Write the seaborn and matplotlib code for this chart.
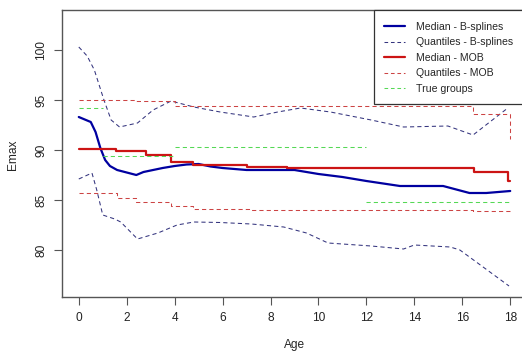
import numpy as np
import matplotlib
matplotlib.use("Agg")
import matplotlib.pyplot as plt
import pandas as pd
import seaborn as sns
from matplotlib.lines import Line2D
from matplotlib.patches import Rectangle

# median - B-splines
bs_age = [0, 0.5, 0.7, 0.9, 1.1, 1.3, 1.6, 2.0, 2.4, 2.7, 3.0, 3.5, 4.0, 4.5, 5.0,
          5.5, 6.0, 7.0, 8.0, 9.0, 10, 11, 12, 13.4, 15.2, 16.3, 17.0, 18]
bs_median = [93.3, 92.8, 91.8, 90.2, 89.0, 88.4, 88.0, 87.75, 87.5, 87.8, 87.95, 88.2,
             88.4, 88.55, 88.6, 88.35, 88.2, 88.0, 88.0, 88.0, 87.6, 87.3, 86.9, 86.4,
             86.4, 85.7, 85.7, 85.9]

# quantiles - B-splines
bs_up_age = [0, 0.35, 0.65, 0.85, 1.05, 1.35, 1.7, 2.45, 3.1, 3.85, 4.8, 5.9, 7.3,
             8.3, 9.25, 10.5, 12.2, 13.55, 15.4, 16.45, 17.9]
bs_upper = [100.3, 99.4, 98.0, 96.5, 95.0, 93.0, 92.3, 92.7, 94.0, 94.9, 94.3, 93.8,
            93.3, 93.8, 94.2, 93.8, 93.0, 92.3, 92.4, 91.5, 94.2]
bs_lo_age = [0, 0.55, 0.75, 1.0, 1.5, 1.75, 2.45, 3.3, 4.1, 4.8, 5.9, 7.2, 8.55, 9.5,
             10.4, 12.2, 13.55, 14.0, 15.5, 15.9, 17.95]
bs_lower = [87.1, 87.7, 86.0, 83.5, 83.1, 82.8, 81.1, 81.7, 82.5, 82.8, 82.75, 82.6,
            82.3, 81.7, 80.7, 80.4, 80.1, 80.5, 80.3, 80.0, 76.4]

# median - MOB (step function)
mob_age = [0, 1.55, 2.8, 3.85, 4.75, 7.0, 8.7, 16.5, 17.9, 18]
mob_median = [90.1, 89.95, 89.5, 88.85, 88.55, 88.3, 88.2, 87.8, 86.95, 86.95]

# quantiles - MOB
mob_up_age = [0, 2.4, 4.0, 16.45, 17.9, 18]
mob_upper = [95.05, 94.95, 94.4, 93.6, 93.6, 91.1]
mob_lo_age = [0, 1.6, 2.4, 3.85, 4.75, 7.1, 16.45, 18]
mob_lower = [85.75, 85.25, 84.8, 84.4, 84.1, 84.0, 83.9, 83.75]

# true groups
grp_start = [0, 1, 4, 12]
grp_end = [1, 4, 12, 18]
grp_level = [94.2, 89.4, 90.3, 84.8]

labels = ["Median - B-splines", "Quantiles - B-splines", "Median - MOB",
          "Quantiles - MOB", "True groups"]

sns.set_theme(style="ticks")
plt.rcParams['font.family'] = ['Liberation Sans', 'DejaVu Sans']

c_blue = "#0000a0"
c_blue_q = "#34347e"
c_red = "#cc1414"
c_red_q = "#cc4444"
c_green = "#55d855"
dash = (4, 3)

fig = plt.figure(figsize=(5.22, 3.52), dpi=100)
ax = fig.add_axes([62 / 522, 1 - 297 / 352, 465 / 522, 287 / 352])

sns.lineplot(x=bs_age, y=bs_median, color=c_blue, lw=1.6, ax=ax)
sns.lineplot(x=bs_up_age, y=bs_upper, color=c_blue_q, lw=0.75, ax=ax).lines[-1].set_dashes(dash)
sns.lineplot(x=bs_lo_age, y=bs_lower, color=c_blue_q, lw=0.75, ax=ax).lines[-1].set_dashes(dash)
sns.lineplot(x=mob_age, y=mob_median, color=c_red, lw=1.6, drawstyle="steps-post", ax=ax)
sns.lineplot(x=mob_up_age, y=mob_upper, color=c_red_q, lw=0.75, drawstyle="steps-post", ax=ax).lines[-1].set_dashes(dash)
sns.lineplot(x=mob_lo_age, y=mob_lower, color=c_red_q, lw=0.75, drawstyle="steps-post", ax=ax).lines[-1].set_dashes(dash)
ax.hlines(grp_level, grp_start, grp_end, colors=c_green, lw=0.75, linestyles=[(0, dash)])

ax.set_xlim(-0.7, 18.7)
ax.set_ylim(75.3, 104)
ax.set_xticks(range(0, 19, 2))
ax.set_yticks([80, 85, 90, 95, 100])
for s in ax.spines.values():
    s.set_color("#555555")
    s.set_linewidth(1)
ax.tick_params(length=5.5, width=0.8, color="#555555", labelsize=8.6, pad=5, labelcolor="#222222")
plt.setp(ax.get_yticklabels(), rotation=90, va="center")
ax.set_xlabel("Age", fontsize=8.6, va="center")
ax.set_ylabel("Emax", fontsize=8.6, va="center")
ax.xaxis.set_label_coords(0.5, -0.167)
ax.yaxis.set_label_coords(-0.105, 0.495)

# legend
leg_dash = (3.5, 2.7)
handles = [
    Line2D([], [], color=c_blue, lw=1.6),
    Line2D([], [], color=c_blue_q, lw=0.75, dashes=leg_dash),
    Line2D([], [], color=c_red, lw=1.6),
    Line2D([], [], color=c_red_q, lw=0.75, dashes=leg_dash),
    Line2D([], [], color=c_green, lw=0.75, dashes=leg_dash),
]
fig.patches.append(Rectangle((374 / 522, 1 - 104 / 352), 0.4, 94 / 352, transform=fig.transFigure,
                             fill=True, facecolor="white", edgecolor="#333333", lw=0.9, zorder=5))
leg = fig.legend(handles, labels, loc="upper left", bbox_to_anchor=(384 / 522, 1 - 22 / 352),
                 frameon=False, fontsize=7.6, handlelength=2.0, handletextpad=1.0,
                 labelspacing=0.52, borderaxespad=0, borderpad=0)
leg.set_zorder(6)

fig.savefig("out.png", dpi=100, facecolor="white")
